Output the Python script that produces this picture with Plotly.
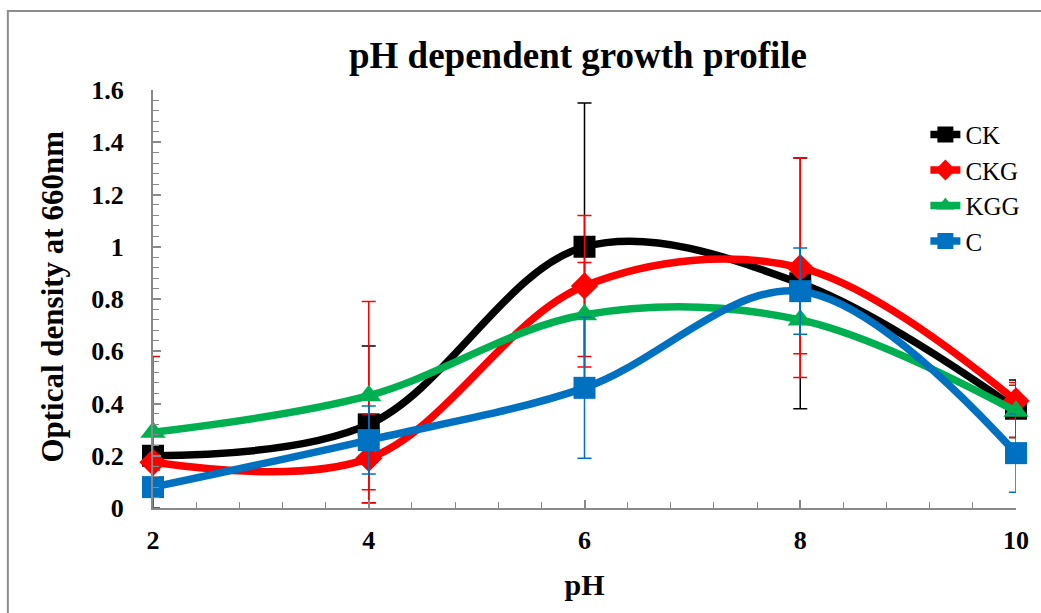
import plotly.graph_objects as go

# pH values and optical density readings (mean and error) per culture
ph = [2, 4, 6, 8, 10]

ck = [0.20, 0.32, 1.00, 0.86, 0.38]
ck_err = [0.02, 0.30, 0.55, 0.48, 0.11]

ckg = [0.175, 0.19, 0.85, 0.92, 0.41]
ckg_err = [0.03, 0.17, 0.27, 0.42, 0.07]

kgg = [0.29, 0.43, 0.74, 0.72, 0.37]
kgg_err = [0.29, 0.36, 0.20, 0.13, 0.10]

c = [0.08, 0.26, 0.46, 0.83, 0.21]
c_err = [0.08, 0.13, 0.27, 0.165, 0.15]

x_ticks = [2, 4, 6, 8, 10]
y_ticks = [0, 0.2, 0.4, 0.6, 0.8, 1, 1.2, 1.4, 1.6]
y_labels = ["0", "0.2", "0.4", "0.6", "0.8", "1", "1.2", "1.4", "1.6"]

SERIF = "Liberation Serif"
AXIS_GREY = "#898989"

series = [
    ("CK", ck, ck_err, "#000000", "#000000", "square", 22),
    ("CKG", ckg, ckg_err, "#FF0000", "#FF0000", "diamond", 21),
    ("KGG", kgg, kgg_err, "#00B050", "#FF0000", "triangle-up", 22),
    ("C", c, c_err, "#0070C0", "#0070C0", "square", 22),
]

fig = go.Figure()
for name, vals, errs, color, err_color, symbol, msize in series:
    fig.add_trace(go.Scatter(
        x=ph, y=vals, name=name,
        mode="lines+markers",
        line=dict(color=color, width=7.5, shape="spline", smoothing=1),
        marker=dict(symbol=symbol, size=msize, color=color),
        error_y=dict(type="data", array=errs, visible=True,
                     color=err_color, thickness=1.5, width=7),
        cliponaxis=False,
    ))

fig.update_layout(
    width=1041, height=613,
    margin=dict(l=153, r=20, t=90, b=105),
    paper_bgcolor="white", plot_bgcolor="white",
    font=dict(family=SERIF, color="black"),
    title=dict(
        text="<b>pH dependent growth profile</b>",
        font=dict(family=SERIF, size=37, color="black"),
        xref="container", x=578 / 1041, xanchor="center",
        yref="container", y=1 - 55 / 613, yanchor="middle",
    ),
    showlegend=True,
    legend=dict(
        x=0.895, y=0.948, xanchor="left", yanchor="top",
        font=dict(family=SERIF, size=25, color="black"),
        bgcolor="rgba(0,0,0,0)", borderwidth=0,
        tracegroupgap=0, itemwidth=30,
    ),
    xaxis=dict(
        range=[2, 10], tickvals=x_ticks,
        showgrid=False, zeroline=False,
        showline=True, linecolor=AXIS_GREY, linewidth=2,
        ticks="inside", ticklen=8, tickwidth=1.5, tickcolor=AXIS_GREY,
        minor=dict(dtick=0.4, tick0=2, ticks="inside", ticklen=6,
                   tickwidth=1.2, tickcolor=AXIS_GREY),
        tickfont=dict(family=SERIF, size=26, color="black", weight="bold"),
        ticklabelstandoff=8,
        title=dict(text="<b>pH</b>", standoff=20,
                   font=dict(family=SERIF, size=30, color="black")),
    ),
    yaxis=dict(
        range=[0, 1.6], tickvals=y_ticks, ticktext=y_labels,
        showgrid=False, zeroline=False,
        showline=True, linecolor=AXIS_GREY, linewidth=2,
        ticks="inside", ticklen=8, tickwidth=1.5, tickcolor=AXIS_GREY,
        minor=dict(dtick=0.04, tick0=0, ticks="inside", ticklen=6,
                   tickwidth=1.2, tickcolor=AXIS_GREY),
        tickfont=dict(family=SERIF, size=26, color="black", weight="bold"),
        ticklabelstandoff=22,
    ),
)

# vertical y-axis title, placed closer to the frame than the default standoff allows
fig.add_annotation(
    text="<b>Optical density at 660nm</b>",
    xref="paper", yref="paper",
    x=(51 - 153) / 868, y=(508 - 297) / 418,
    xanchor="center", yanchor="middle",
    textangle=-90, showarrow=False,
    font=dict(family=SERIF, size=31, color="black"),
)

# thin grey frame around the chart area
fig.add_shape(
    type="rect", xref="paper", yref="paper",
    x0=(7 - 153) / 868, x1=(1050 - 153) / 868,
    y0=(508 - 630) / 418, y1=(508 - 11) / 418,
    line=dict(color="#8c8c8c", width=2), fillcolor="rgba(0,0,0,0)",
    layer="below",
)

fig.write_html("out.html")
